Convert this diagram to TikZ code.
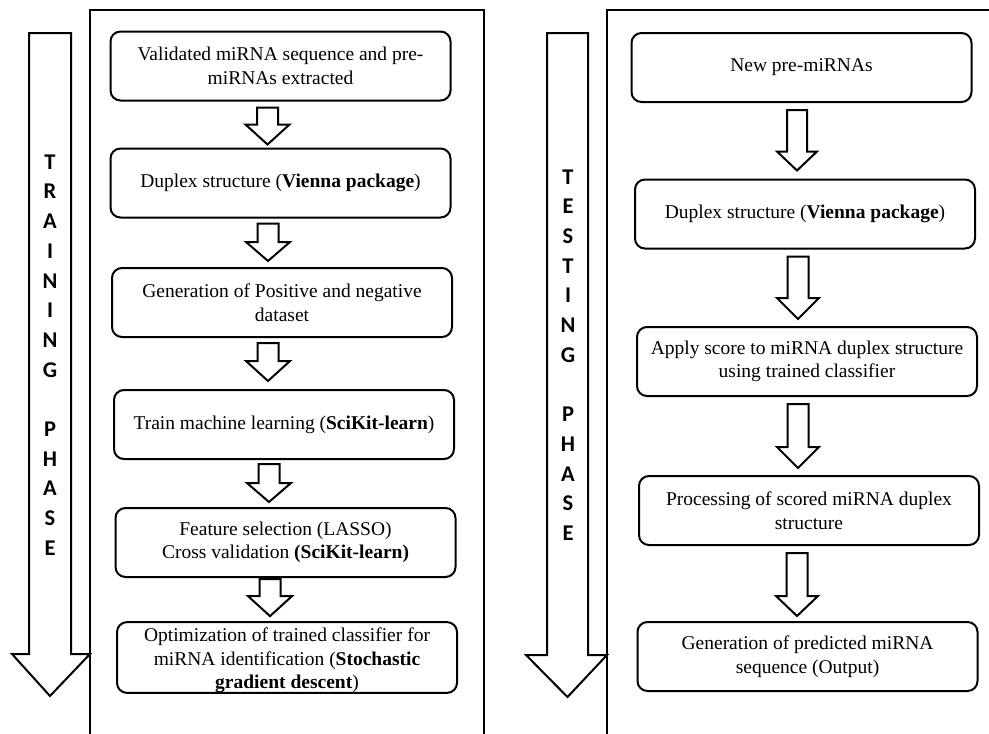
\documentclass[tikz,border=0pt]{standalone}
\usepackage{fontspec}
\setmainfont{Liberation Serif}
\newfontfamily\lettersfont{Carlito}
\usetikzlibrary{calc}
\tikzset{
  stepbox/.style={draw, line width=2pt, rounded corners=10pt, minimum width=340pt,
    minimum height=69pt, inner sep=0pt, align=center,
    font=\fontsize{19.5}{23.5}\selectfont},
  blk/.style={draw, line width=2pt, fill=white, line join=miter},
  bigarrow/.style={draw, line width=2pt, fill=white},
  panel/.style={draw, line width=2pt},
  phasetext/.style={align=center, inner sep=0pt,
    font=\lettersfont\bfseries\fontsize{22.5}{29.7}\selectfont},
}
% #1 from node, #2 to node, #3 x centre, #4 top gap, #5 bottom gap, #6 head length, #7 shaft half, #8 head half
\newcommand{\barrow}[8]{%
  \draw[blk] let \p1=(#1.south), \p2=(#2.north) in
    (#3pt-#7pt,\y1-#4pt) -- (#3pt+#7pt,\y1-#4pt) -- (#3pt+#7pt,\y2+#5pt+#6pt)
    -- (#3pt+#8pt,\y2+#5pt+#6pt) -- (#3pt,\y2+#5pt) -- (#3pt-#8pt,\y2+#5pt+#6pt)
    -- (#3pt-#7pt,\y2+#5pt+#6pt) -- cycle;}
\begin{document}
\begin{tikzpicture}[x=1pt,y=-1pt]
\useasboundingbox (0,0) rectangle (989,734);
% panels
\draw[panel] (90,760) -- (90,10) -- (484,10) -- (484,760);
\draw[panel] (607,760) -- (607,10) -- (1010,10);
% big phase arrows
\draw[bigarrow] (29,33) -- (71,33) -- (71,654) -- (90,654) -- (50,696) -- (12,654) -- (29,654) -- cycle;
\draw[bigarrow] (547,33) -- (588,33) -- (588,655) -- (607,655) -- (567.5,697) -- (526,655) -- (547,655) -- cycle;
\node[phasetext] (train) at (50,355) {T\\R\\A\\I\\N\\I\\N\\G\\[29.7pt]P\\H\\A\\S\\E};
\node[phasetext] (test) at (568,355) {T\\E\\S\\T\\I\\N\\G\\[29.7pt]P\\H\\A\\S\\E};
% left boxes
\node[stepbox] (l1) at (280.5,66) {Validated miRNA sequence and pre-\\miRNAs extracted};
\node[stepbox] (l2) at (280.5,183) {Duplex structure (\textbf{Vienna package})};
\node[stepbox] (l3) at (282,302.5) {Generation of Positive and negative\\dataset};
\node[stepbox] (l4) at (284,424.5) {Train machine learning (\textbf{SciKit-learn})};
\node[stepbox] (l5) at (285.5,542.5) {Feature selection (LASSO)\\Cross validation \textbf{(SciKit-learn)}};
\node[stepbox] (l6) at (287,657.5) {\rule{0pt}{19.5pt}Optimization of trained classifier for\\miRNA identification (\textbf{Stochastic}\\\textbf{gradient descent})};
% right boxes
\node[stepbox] (r1) at (801.5,67.5) {New pre-miRNAs};
\node[stepbox] (r2) at (805,214) {Duplex structure (\textbf{Vienna package})};
\node[stepbox] (r3) at (807,361.5) {Apply score to miRNA duplex structure\\using trained classifier};
\node[stepbox] (r4) at (809,510.5) {Processing of scored miRNA duplex\\structure};
\node[stepbox] (r5) at (807.5,656.5) {Generation of predicted miRNA\\sequence (Output)};
% left block arrows
\barrow{l1}{l2}{267.5}{6}{3}{20}{10.5}{22}
\barrow{l2}{l3}{268}{5}{6}{19}{10.5}{22}
\barrow{l3}{l4}{268}{5}{8}{20}{10.5}{22}
\barrow{l4}{l5}{269}{4}{5}{19}{10.5}{22}
\barrow{l5}{l6}{270}{1}{5}{20}{10.5}{22}
% right block arrows
\barrow{r1}{r2}{797}{7}{8}{19}{10}{20}
\barrow{r2}{r3}{798}{7}{7}{21}{10.5}{21}
\barrow{r3}{r4}{798}{7}{7}{21}{10.5}{21}
\barrow{r4}{r5}{797}{7}{5}{20}{10.5}{21}
\end{tikzpicture}
\end{document}
